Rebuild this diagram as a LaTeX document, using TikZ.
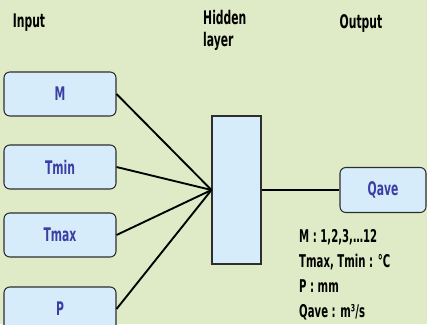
\documentclass[tikz,border=0pt]{standalone}
\usepackage{fontspec}
\setmainfont{DejaVu Sans Condensed}[FakeStretch=0.64]
\usetikzlibrary{positioning}
\definecolor{paper}{HTML}{DFEBC6}
\definecolor{cell}{HTML}{D7ECFB}
\definecolor{ink}{HTML}{3B3FA3}
\definecolor{edge}{HTML}{2E2E2E}
\newcommand\diagfont{\fontsize{16}{19}\selectfont\bfseries}

\begin{document}
\begin{tikzpicture}[x=0.03cm, y=-0.03cm,
  varbox/.style={draw=edge, line width=0.9pt, fill=cell, rounded corners=5pt,
                 minimum width=3.36cm, minimum height=1.32cm, font=\diagfont, text=ink},
  head/.style={font=\diagfont, inner sep=0pt},
  link/.style={line width=1.6pt},
]
  % page and background
  \fill[paper] (0,0) rectangle (427,324);
  \useasboundingbox (0,0) rectangle (427,324);
  \clip (0,0) rectangle (427,324);

  % column headings
  \node[head] (inhead) at (29,23) {Input};
  \node[head, anchor=north west, align=left]
    (hidhead) at (203,10) {Hidden\\layer};
  \node[head] (outhead) at (361,23) {Output};

  % input variables
  \node[varbox] (m) at (60,94) {M};
  \node[varbox] (tmin) at (60,167) {Tmin};
  \node[varbox] (tmax) at (60,235) {Tmax};
  \node[varbox] (p) at (60,309) {P};

  % hidden layer and output
  \node[draw=edge, line width=0.9pt, fill=cell, minimum width=1.47cm, minimum height=4.44cm]
    (hidden) at (236.5,190) {};
  \node[varbox, minimum width=2.58cm, minimum height=1.35cm] (qave) at (383,190) {Qave};

  \foreach \v in {m,tmin,tmax,p}
    \draw[link] (\v.east) -- (hidden.west);
  \draw[link] (hidden.east) -- (qave.west);

  % units
  \node[head, anchor=north west, align=left, font=\fontsize{15}{21.5}\selectfont\bfseries]
    (units) at (299,229) {M : 1,2,3,…12\\Tmax, Tmin : °C\\P : mm\\Qave : m³/s};
\end{tikzpicture}
\end{document}
